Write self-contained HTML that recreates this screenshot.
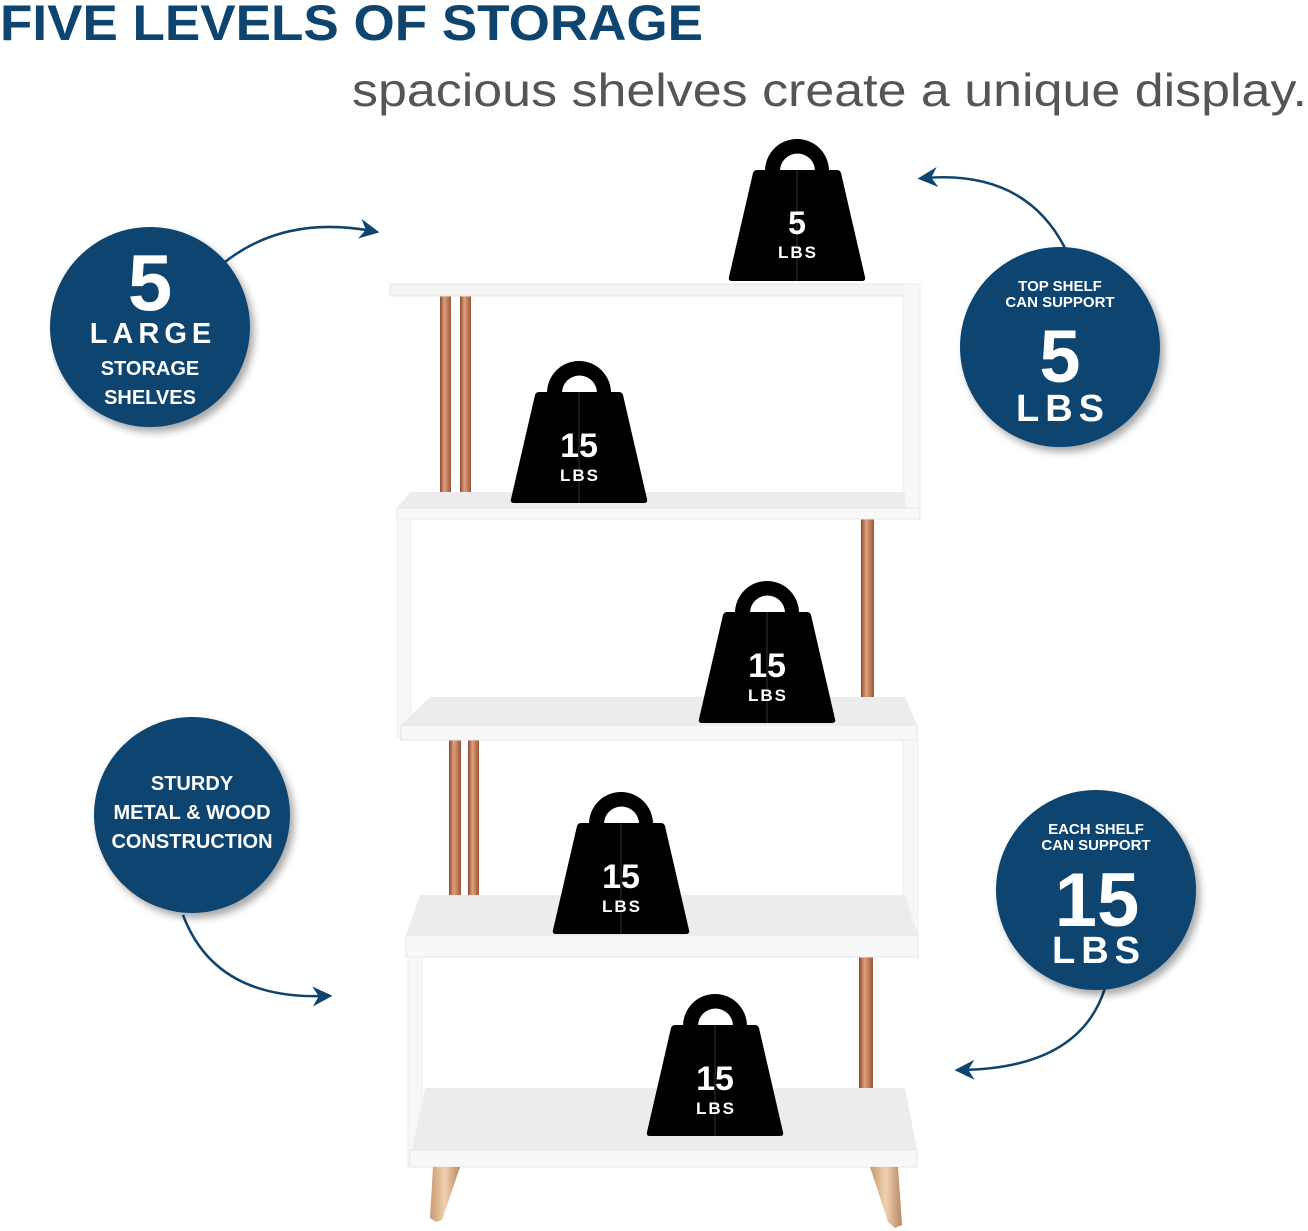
<!DOCTYPE html>
<html><head><meta charset="utf-8"><style>
html,body{margin:0;padding:0;background:#fff;}
svg{display:block;}
text{font-family:"Liberation Sans",sans-serif;}
</style></head><body>
<svg width="1308" height="1231" viewBox="0 0 1308 1231" xmlns="http://www.w3.org/2000/svg">
<defs>
<filter id="sh" x="-20%" y="-20%" width="150%" height="150%"><feGaussianBlur in="SourceAlpha" stdDeviation="4"/><feOffset dx="4" dy="5"/><feComponentTransfer><feFuncA type="linear" slope="0.35"/></feComponentTransfer><feMerge><feMergeNode/><feMergeNode in="SourceGraphic"/></feMerge></filter>
<marker id="ah" markerWidth="8" markerHeight="8" refX="5" refY="4" orient="auto" markerUnits="strokeWidth"><path d="M0,0 L8,4 L0,8 L2.5,4 Z" fill="#0d4470"/></marker>
<linearGradient id="cu" x1="0" x2="1"><stop offset="0" stop-color="#8a4a2c"/><stop offset="0.4" stop-color="#e0a07e"/><stop offset="1" stop-color="#9a5636"/></linearGradient>
<linearGradient id="leg" x1="0" x2="1"><stop offset="0" stop-color="#c99a70"/><stop offset="0.5" stop-color="#f0d0b0"/><stop offset="1" stop-color="#b98660"/></linearGradient>
<g id="wt">
<path d="M37,-110 A32,32 0 0 1 101,-110 Z M52,-110 L87,-110 A17.5,17.5 0 0 0 52,-110 Z" fill="#000" fill-rule="evenodd"/>
<path d="M29,-111 L109,-111 Q112,-111 113,-108 L137,-4 Q138,0 134,0 L4,0 Q0,0 1,-4 L25,-108 Q26,-111 29,-111 Z" fill="#000"/>
<line x1="69" y1="-111" x2="69" y2="0" stroke="#333" stroke-width="1"/>
</g>
</defs>

<text x="0" y="40" font-size="50" font-weight="bold" fill="#0d4470" textLength="703" lengthAdjust="spacingAndGlyphs">FIVE LEVELS OF STORAGE</text>
<text x="352" y="106" font-size="46" fill="#555" textLength="955" lengthAdjust="spacingAndGlyphs">spacious shelves create a unique display.</text>

<g>
<rect x="440" y="296" width="11" height="212" fill="url(#cu)"/>
<rect x="460" y="296" width="11" height="199" fill="url(#cu)"/>
<rect x="861" y="518" width="13" height="207" fill="url(#cu)"/>
<rect x="449" y="740" width="12" height="197" fill="url(#cu)"/>
<rect x="468" y="740" width="11" height="160" fill="url(#cu)"/>
<rect x="859" y="957" width="14" height="193" fill="url(#cu)"/>
<rect x="390" y="284" width="530" height="12" fill="#f4f4f5" stroke="#e4e4e6"/>
<rect x="903" y="284" width="17" height="234" fill="#f7f7f8" stroke="#ececee"/>
<polygon points="410,492 905,492 905,508 397,508" fill="#ececee"/>
<rect x="397" y="508" width="523" height="11" fill="#f8f8f9" stroke="#e6e6e8"/>
<rect x="397" y="519" width="14" height="219" fill="#f7f7f8" stroke="#ececee"/>
<polygon points="430,697 905,697 917,725 401,725" fill="#ececee"/>
<rect x="401" y="725" width="516" height="15" fill="#f8f8f9" stroke="#e6e6e8"/>
<rect x="903" y="740" width="15" height="215" fill="#f7f7f8" stroke="#ececee"/>
<polygon points="420,895 905,895 918,935 406,935" fill="#ececee"/>
<rect x="406" y="935" width="512" height="22" fill="#f8f8f9" stroke="#e6e6e8"/>
<rect x="408" y="957" width="14" height="210" fill="#f7f7f8" stroke="#ececee"/>
<polygon points="425,1088 905,1088 917,1150 412,1150" fill="#ececee"/>
<rect x="410" y="1150" width="507" height="17" fill="#f8f8f9" stroke="#e6e6e8"/>
<polygon points="433,1167 460,1167 442,1220 436,1222 430,1218" fill="url(#leg)"/>
<polygon points="870,1167 898,1167 902,1225 895,1228 888,1222" fill="url(#leg)"/>
</g>

<g fill="#fff" text-anchor="middle" font-weight="bold">
<use href="#wt" transform="translate(728,281)"/>
<text x="797" y="234" font-size="32">5</text><text x="798" y="258" font-size="17" letter-spacing="2">LBS</text>
<use href="#wt" transform="translate(510,503)"/>
<text x="579" y="457" font-size="34">15</text><text x="580" y="481" font-size="17" letter-spacing="2">LBS</text>
<use href="#wt" transform="translate(698,723)"/>
<text x="767" y="677" font-size="34">15</text><text x="768" y="701" font-size="17" letter-spacing="2">LBS</text>
<use href="#wt" transform="translate(552,934)"/>
<text x="621" y="888" font-size="34">15</text><text x="622" y="912" font-size="17" letter-spacing="2">LBS</text>
<use href="#wt" transform="translate(646,1136)"/>
<text x="715" y="1090" font-size="34">15</text><text x="716" y="1114" font-size="17" letter-spacing="2">LBS</text>
</g>

<g fill="none" stroke="#0d4470" stroke-width="2.5">
<path d="M225,262 Q285,215 372,231" marker-end="url(#ah)"/>
<path d="M1065,248 Q1025,170 925,178" marker-end="url(#ah)"/>
<path d="M183,915 Q215,1000 325,996" marker-end="url(#ah)"/>
<path d="M1105,988 Q1080,1068 962,1070" marker-end="url(#ah)"/>
</g>

<g fill="#0d4470" filter="url(#sh)">
<circle cx="150" cy="327" r="100"/>
<circle cx="1060" cy="347" r="100"/>
<circle cx="192" cy="815" r="98"/>
<circle cx="1096" cy="890" r="100"/>
</g>
<g fill="#fff" text-anchor="middle" font-weight="bold">
<text x="150" y="310" font-size="80">5</text>
<text x="153" y="343" font-size="29" letter-spacing="5">LARGE</text>
<text x="150" y="375" font-size="20">STORAGE</text>
<text x="150" y="404" font-size="20">SHELVES</text>
<text x="1060" y="291" font-size="15">TOP SHELF</text>
<text x="1060" y="307" font-size="15">CAN SUPPORT</text>
<text x="1060" y="382" font-size="74">5</text>
<text x="1063" y="421" font-size="38" letter-spacing="6">LBS</text>
<text x="192" y="790" font-size="20">STURDY</text>
<text x="192" y="819" font-size="20">METAL &amp; WOOD</text>
<text x="192" y="848" font-size="20">CONSTRUCTION</text>
<text x="1096" y="834" font-size="15">EACH SHELF</text>
<text x="1096" y="850" font-size="15">CAN SUPPORT</text>
<text x="1097" y="926" font-size="76">15</text>
<text x="1099" y="963" font-size="38" letter-spacing="6">LBS</text>
</g>
</svg>
</body></html>
